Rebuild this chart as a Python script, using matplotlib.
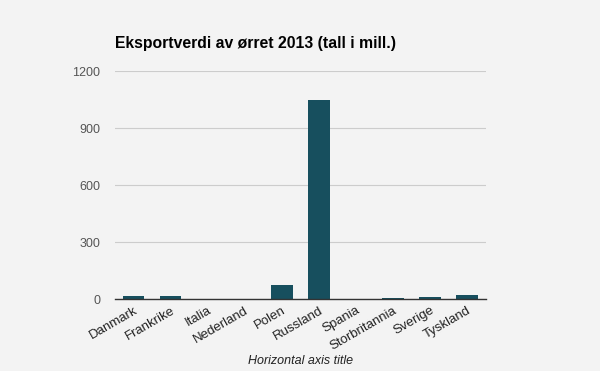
import matplotlib
matplotlib.use("Agg")
import matplotlib.pyplot as plt
import numpy as np

# export value of trout 2013 (million NOK)
countries = ["Danmark", "Frankrike", "Italia", "Nederland", "Polen",
             "Russland", "Spania", "Storbritannia", "Sverige", "Tyskland"]
values = [16, 17, 1, 0, 75, 1048, 0, 3, 12, 22]
yticks = [0, 300, 600, 900, 1200]

bg = "#f3f3f3"
bar_color = "#174f5e"

plt.rcParams['font.family'] = ['Liberation Sans', 'DejaVu Sans']

fig = plt.figure(figsize=(6, 3.71), dpi=100, facecolor=bg)
ax = fig.add_axes([0.1917, 0.194, 0.618, 0.6146], facecolor=bg)

x = np.arange(len(countries))
ax.bar(x, values, width=0.585, color=bar_color, zorder=3)

ax.set_xlim(-0.5, len(countries) - 0.5)
ax.set_ylim(0, 1200)
ax.set_yticks(yticks)
ax.set_yticklabels([str(v) for v in yticks], color="#555555", fontsize=9)
ax.grid(axis="y", color="#cccccc", linewidth=0.8, zorder=0)

ax.set_xticks(x)
ax.set_xticklabels(countries, rotation=30, ha="right", rotation_mode="anchor",
                   color="#222222", fontsize=9.5)
ax.tick_params(axis="y", length=0, pad=10.5)
ax.tick_params(axis="x", length=0, pad=4)

for side in ["top", "right", "left"]:
    ax.spines[side].set_visible(False)
ax.spines["bottom"].set_color("#333333")
ax.spines["bottom"].set_linewidth(1.0)
ax.spines["bottom"].set_zorder(4)

ax.set_xlabel("Horizontal axis title", fontstyle="italic", color="#222222",
              fontsize=9, labelpad=2)

fig.text(0.192, 0.87, "Eksportverdi av ørret 2013 (tall i mill.)",
         fontsize=11.3, fontweight="bold", color="#000000")

fig.savefig("out.png", dpi=100, facecolor=bg)
